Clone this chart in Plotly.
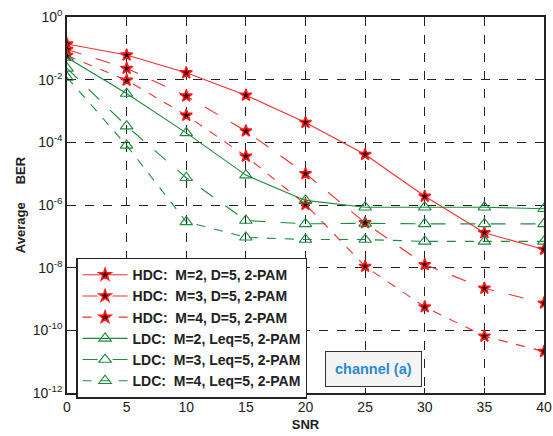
import plotly.graph_objects as go

snr = [0, 5, 10, 15, 20, 25, 30, 35, 40]

hdc_m2 = [0.137, 0.061, 0.0166, 0.0032, 4.3e-4, 4.1e-5, 1.9e-6, 1.3e-7, 3.8e-8]
hdc_m3 = [0.092, 0.023, 0.003, 2.3e-4, 1.0e-5, 2.7e-7, 1.25e-8, 2.2e-9, 7.4e-10]
hdc_m4 = [0.059, 0.0096, 7.3e-4, 3.6e-5, 1.04e-6, 1.1e-8, 5.6e-10, 6.5e-11, 2.1e-11]
ldc_m2 = [0.051, 0.0036, 2.0e-4, 9e-6, 1.4e-6, 8.5e-7, 8.5e-7, 8.5e-7, 7.6e-7]
ldc_m3 = [0.023, 3.3e-4, 7.4e-6, 3.2e-7, 2.5e-7, 2.6e-7, 2.5e-7, 2.5e-7, 2.5e-7]
ldc_m4 = [0.0118, 8e-5, 2.9e-7, 9.3e-8, 7.9e-8, 7.9e-8, 6.9e-8, 6.9e-8, 6.9e-8]

names = [
    "HDC:  M=2, D=5, 2-PAM",
    "HDC:  M=3, D=5, 2-PAM",
    "HDC:  M=4, D=5, 2-PAM",
    "LDC:  M=2, Leq=5, 2-PAM",
    "LDC:  M=3, Leq=5, 2-PAM",
    "LDC:  M=4, Leq=5, 2-PAM",
]

x_ticks = [0, 5, 10, 15, 20, 25, 30, 35, 40]
y_exps = [0, -2, -4, -6, -8, -10, -12]

RED = "#f03030"
GREEN = "#1e8a40"

fig = go.Figure()
series = [hdc_m2, hdc_m3, hdc_m4, ldc_m2, ldc_m3, ldc_m4]
dashes = ["solid", "longdash", "dash", "solid", "longdash", "dash"]
for i, (ys, nm, ds) in enumerate(zip(series, names, dashes)):
    if i < 3:
        marker = dict(symbol="star", size=9, color="#300000",
                      line=dict(color="#ff1a1a", width=1.5))
        color = RED
    else:
        marker = dict(symbol="triangle-up-open", size=11, color=GREEN,
                      line=dict(color=GREEN, width=1.1))
        color = GREEN
    fig.add_trace(go.Scatter(
        x=snr, y=ys, name=nm, mode="lines+markers",
        line=dict(color=color, width=1.1, dash=ds),
        marker=marker,
    ))

fig.update_layout(
    width=553, height=436,
    margin=dict(l=67, r=9, t=17, b=43, autoexpand=False),
    paper_bgcolor="white", plot_bgcolor="white",
    font=dict(family="Liberation Sans, Arial, sans-serif", size=14, color="#222"),
    showlegend=True,
    legend=dict(
        x=0.019, y=0.36, xanchor="left", yanchor="top",
        bgcolor="white", bordercolor="#222", borderwidth=1.5,
        font=dict(size=14, color="#222", family="Liberation Sans, Arial, sans-serif", weight="bold"),
        itemwidth=45, tracegroupgap=0,
    ),
    annotations=[dict(
        x=0.541, y=0.016, xref="paper", yref="paper", xanchor="left", yanchor="bottom",
        text="<b>channel (a)</b>", showarrow=False,
        font=dict(size=14.5, color="#2a8ad4"),
        bgcolor="#f4f4f4", bordercolor="#333", borderwidth=1, borderpad=9,
    )],
)

fig.update_xaxes(
    range=[0, 40], tickvals=x_ticks, ticktext=[str(v) for v in x_ticks],
    showgrid=True, gridcolor="#222", griddash="dash", gridwidth=1,
    showline=True, linecolor="#222", linewidth=1.5, mirror=True,
    ticks="inside", ticklen=5, tickcolor="#222", zeroline=False,
    automargin=False, ticklabeloverflow="allow",
    title=dict(text="<b>SNR</b>", font=dict(size=13), standoff=6),
    tickfont=dict(size=14),
)
fig.update_yaxes(
    type="log", range=[-12, 0],
    tickvals=[10.0 ** e for e in y_exps],
    ticktext=["10<sup>%d</sup>" % e for e in y_exps],
    showgrid=True, gridcolor="#222", griddash="dash", gridwidth=1,
    showline=True, linecolor="#222", linewidth=1.5, mirror=True,
    ticks="inside", ticklen=5, tickcolor="#222", zeroline=False,
    automargin=False, ticklabeloverflow="allow",
    title=dict(text="<b>Average     BER</b>", font=dict(size=13), standoff=4),
    tickfont=dict(size=14),
)

fig.write_html("out.html", config={"displayModeBar": False},
               post_script="document.body.style.margin='0';")
